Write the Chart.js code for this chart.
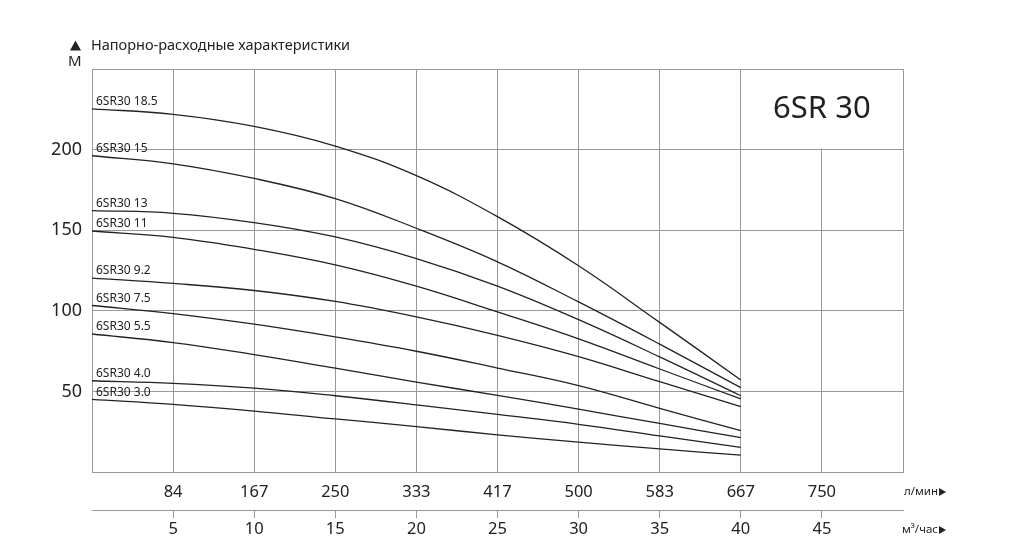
<!DOCTYPE html>
<html>
<head>
<meta charset="utf-8">
<script src="https://cdn.jsdelivr.net/npm/chart.js@4"></script>
<style>
  html, body { margin: 0; padding: 0; background: #fff; }
  #wrap { width: 1022px; height: 559px; position: relative; }
</style>
</head>
<body>
<div id="wrap"><canvas id="pump"></canvas></div>
<script>
// flow in m3/h at which the curves were read
var flow = [0, 5, 10, 15, 20, 25, 30, 35, 40];
// l/min labels shown under the 5..45 m3/h grid lines
var flowTicks = [5, 10, 15, 20, 25, 30, 35, 40, 45];
var lpmLabels = ['84', '167', '250', '333', '417', '500', '583', '667', '750'];

var models = ['6SR30 18.5', '6SR30 15', '6SR30 13', '6SR30 11', '6SR30 9.2',
              '6SR30 7.5', '6SR30 5.5', '6SR30 4.0', '6SR30 3.0'];

var h185 = [225.3, 221.9, 214.4, 202.2, 183.8, 158.4, 127.9, 92.8, 57.1];
var h15  = [196.2, 191.2, 182.1, 169.6, 151.2, 130.4, 105.5, 79.3, 52.3];
var h13  = [162.2, 160.5, 154.7, 145.8, 132.4, 115.3, 94.5, 71.4, 47.3];
var h11  = [149.5, 145.6, 138.1, 128.5, 115.3, 99.3, 82.6, 63.9, 45.3];
var h92  = [120.3, 117.0, 112.6, 105.8, 96.2, 84.8, 71.6, 56.0, 40.5];
var h75  = [103.3, 98.3, 91.7, 83.8, 74.9, 64.5, 53.6, 39.5, 25.6];
var h55  = [85.6, 80.3, 72.8, 64.4, 55.8, 47.5, 39.0, 30.1, 21.3];
var h40  = [56.6, 55.0, 52.0, 47.3, 41.7, 35.7, 29.6, 22.4, 15.3];
var h30  = [45.0, 41.9, 37.8, 32.9, 28.2, 23.0, 18.5, 14.3, 10.5];

var heads = [h185, h15, h13, h11, h92, h75, h55, h40, h30];

var FONT = '"Noto Sans", sans-serif';
var INK = '#222';
var GRID = '#999';

function points(h){
  return flow.map(function(q, i){ return {x: q, y: h[i]}; });
}

var datasets = heads.map(function(h, i){
  return {
    label: models[i],
    data: points(h),
    borderColor: INK,
    borderWidth: 1.3,
    pointRadius: 0,
    fill: false,
    tension: 0.4
  };
});

function tri(c, x, y, w, h, right){
  c.beginPath();
  if (right) {
    c.moveTo(x, y - h / 2); c.lineTo(x + w, y); c.lineTo(x, y + h / 2);
  } else {
    c.moveTo(x, y + h / 2); c.lineTo(x + w / 2, y - h / 2); c.lineTo(x + w, y + h / 2);
  }
  c.closePath();
  c.fill();
}

// white box in the top right corner with the series name, curve labels, titles
var decor = {
  id: 'decor',
  beforeDatasetsDraw: function(chart){
    var c = chart.ctx, a = chart.chartArea;
    var sx = chart.scales.x, sy = chart.scales.y;
    var x40 = sx.getPixelForValue(40), y200 = sy.getPixelForValue(200);
    c.save();
    c.fillStyle = '#fff';
    c.fillRect(x40 + 1, a.top + 1, a.right - x40 - 2, y200 - a.top - 2);
    c.fillStyle = INK;
    c.font = '31px ' + FONT;
    c.textAlign = 'center';
    c.textBaseline = 'middle';
    c.fillText('6SR 30', (x40 + a.right) / 2, (a.top + y200) / 2);
    c.restore();
  },
  afterDatasetsDraw: function(chart){
    var c = chart.ctx, a = chart.chartArea;
    c.save();
    c.fillStyle = INK;
    c.font = '12px ' + FONT;
    c.textAlign = 'left';
    c.textBaseline = 'bottom';
    chart.data.datasets.forEach(function(ds, i){
      var p = chart.getDatasetMeta(i).data[0];
      c.fillText(ds.label, a.left + 4, p.y - 1);
    });
    c.textBaseline = 'middle';
    tri(c, a.left - 22, 45.5, 11, 10, false);
    c.font = '14.5px ' + FONT;
    c.fillText('Напорно-расходные характеристики', a.left - 1, 46);
    c.font = '15px ' + FONT;
    c.fillText('М', a.left - 24, 62);
    c.font = '11.5px ' + FONT;
    var w1 = c.measureText('л/мин').width;
    c.fillText('л/мин', a.right + 1, 492);
    tri(c, a.right + 2 + w1, 492, 7, 8, true);
    var w2 = c.measureText('м³/час').width;
    c.fillText('м³/час', a.right - 1, 530);
    tri(c, a.right + w2, 530, 7, 8, true);
    c.restore();
  }
};

new Chart(document.getElementById('pump'), {
  type: 'line',
  data: { datasets: datasets },
  plugins: [decor],
  options: {
    responsive: true,
    maintainAspectRatio: false,
    animation: false,
    layout: { padding: { left: 30, right: 119, top: 69, bottom: 9 } },
    plugins: { legend: { display: false }, tooltip: { enabled: false } },
    scales: {
      x: {
        type: 'linear', position: 'bottom', min: 0, max: 50,
        border: { color: GRID, width: 1 },
        grid: { color: GRID, lineWidth: 1, drawTicks: false },
        afterBuildTicks: function(s){ s.ticks = [0,5,10,15,20,25,30,35,40,45,50].map(function(v){ return {value: v}; }); },
        afterFit: function(s){ s.height = 38; },
        ticks: {
          padding: 10, color: INK, maxRotation: 0, autoSkip: false,
          font: { family: FONT, size: 16.5 },
          callback: function(v){
            var i = flowTicks.indexOf(v);
            return i < 0 ? '' : lpmLabels[i];
          }
        }
      },
      x2: {
        type: 'linear', position: 'bottom', min: 0, max: 50,
        border: { color: GRID, width: 1 },
        grid: {
          drawOnChartArea: false, tickLength: 8, lineWidth: 1,
          color: function(ctx){ return flowTicks.indexOf(ctx.tick.value) < 0 ? 'rgba(0,0,0,0)' : GRID; }
        },
        afterBuildTicks: function(s){ s.ticks = [0,5,10,15,20,25,30,35,40,45,50].map(function(v){ return {value: v}; }); },
        afterFit: function(s){ s.height = 40; },
        ticks: {
          padding: 1, color: INK, maxRotation: 0, autoSkip: false,
          font: { family: FONT, size: 16.5 },
          callback: function(v){ return flowTicks.indexOf(v) < 0 ? '' : String(v); }
        }
      },
      y: {
        type: 'linear', min: 0, max: 250,
        border: { color: GRID, width: 1 },
        grid: { color: GRID, lineWidth: 1, drawTicks: false },
        afterFit: function(s){ s.width = 62; },
        ticks: {
          stepSize: 50, padding: 10, color: INK,
          font: { family: FONT, size: 18 },
          callback: function(v){ return (v === 0 || v === 250) ? '' : String(v); }
        }
      }
    }
  }
});
</script>
</body>
</html>
